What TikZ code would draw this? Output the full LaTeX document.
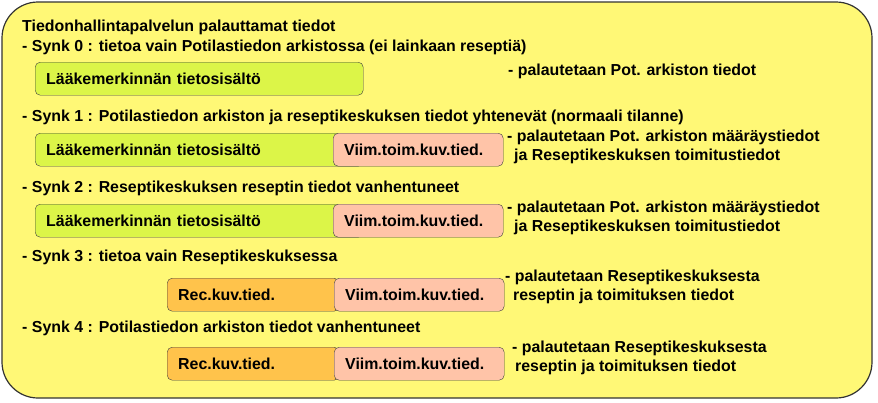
\documentclass[tikz,border=0pt]{standalone}
\usepackage{fontspec}
\setmainfont{Liberation Sans}
\usepackage{tikz}
\usetikzlibrary{positioning}
\definecolor{notebg}{HTML}{FFF876}
\definecolor{lmgreen}{HTML}{DCF548}
\definecolor{recorange}{HTML}{FFC34B}
\definecolor{toimpink}{HTML}{FFC4A8}

\begin{document}
\begin{tikzpicture}[x=1pt, y=-1pt,
	txt/.style = {anchor = base west, inner sep = 0pt, font = \bfseries\fontsize{15.9}{18}\selectfont},
	cell/.style = {draw = black!75, rounded corners = 5pt, anchor = north west, minimum height = 33pt,
		inner xsep = 11pt, inner ysep = 0pt, align = left, text height = 14pt, text depth = 2.6pt,
		font = \bfseries\fontsize{15.9}{18}\selectfont},
	lm/.style = {cell, fill = lmgreen},
	rec/.style = {cell, fill = recorange},
	toim/.style = {cell, fill = toimpink}]
	\useasboundingbox (0,0) rectangle (878,402);
	\draw[fill = notebg, draw = black!80, line width = 1.2pt, rounded corners = 36pt] (2,2) rectangle (872,398);
				% otsikko ja synkronointitilat
				\node[txt] (title) at (22,31) {Tiedonhallintapalvelun palauttamat tiedot};
				\node[txt] (s0) at (22,51) {- Synk 0 : tietoa vain Potilastiedon arkistossa (ei lainkaan reseptiä)};
				\node[txt] (s1) at (22,121) {- Synk 1 : Potilastiedon arkiston ja reseptikeskuksen tiedot yhtenevät (normaali tilanne)};
				\node[txt] (s2) at (22,192) {- Synk 2 : Reseptikeskuksen reseptin tiedot vanhentuneet};
				\node[txt] (s3) at (22,261) {- Synk 3 : tietoa vain Reseptikeskuksessa};
				\node[txt] (s4) at (22,332) {- Synk 4 : Potilastiedon arkiston tiedot vanhentuneet};
				% tietolaatikot
				\node[lm, text width = 306pt] (lm0) at (35,62) {Lääkemerkinnän tietosisältö};
				\node[lm, text width = 306pt] (lm1) at (35,133) {Lääkemerkinnän tietosisältö};
				\node[toim, text width = 148pt] (t1) at (333,133) {Viim.toim.kuv.tied.};
				\node[lm, text width = 306pt] (lm2) at (35,204) {Lääkemerkinnän tietosisältö};
				\node[toim, text width = 148pt] (t2) at (333,204) {Viim.toim.kuv.tied.};
				\node[rec, text width = 150pt] (r3) at (167,278) {Rec.kuv.tied.};
				\node[toim, text width = 148pt] (t3) at (334,278) {Viim.toim.kuv.tied.};
				\node[rec, text width = 150pt] (r4) at (167,347) {Rec.kuv.tied.};
				\node[toim, text width = 148pt] (t4) at (334,347) {Viim.toim.kuv.tied.};
				% palautettavat tiedot
				\node[txt] (p0) at (508,75) {- palautetaan Pot. arkiston tiedot};
				\node[txt] (p1) at (507,141) {- palautetaan Pot. arkiston määräystiedot};
				\node[txt] (p1b) at (514,160) {ja Reseptikeskuksen toimitustiedot};
				\node[txt] (p2) at (507,212) {- palautetaan Pot. arkiston määräystiedot};
				\node[txt] (p2b) at (514,231) {ja Reseptikeskuksen toimitustiedot};
				\node[txt] (p3) at (505,281) {- palautetaan Reseptikeskuksesta};
				\node[txt] (p3b) at (513,300) {reseptin ja toimituksen tiedot};
				\node[txt] (p4) at (512,352) {- palautetaan Reseptikeskuksesta};
				\node[txt] (p4b) at (515,371) {reseptin ja toimituksen tiedot};
			\end{tikzpicture}
\end{document}
